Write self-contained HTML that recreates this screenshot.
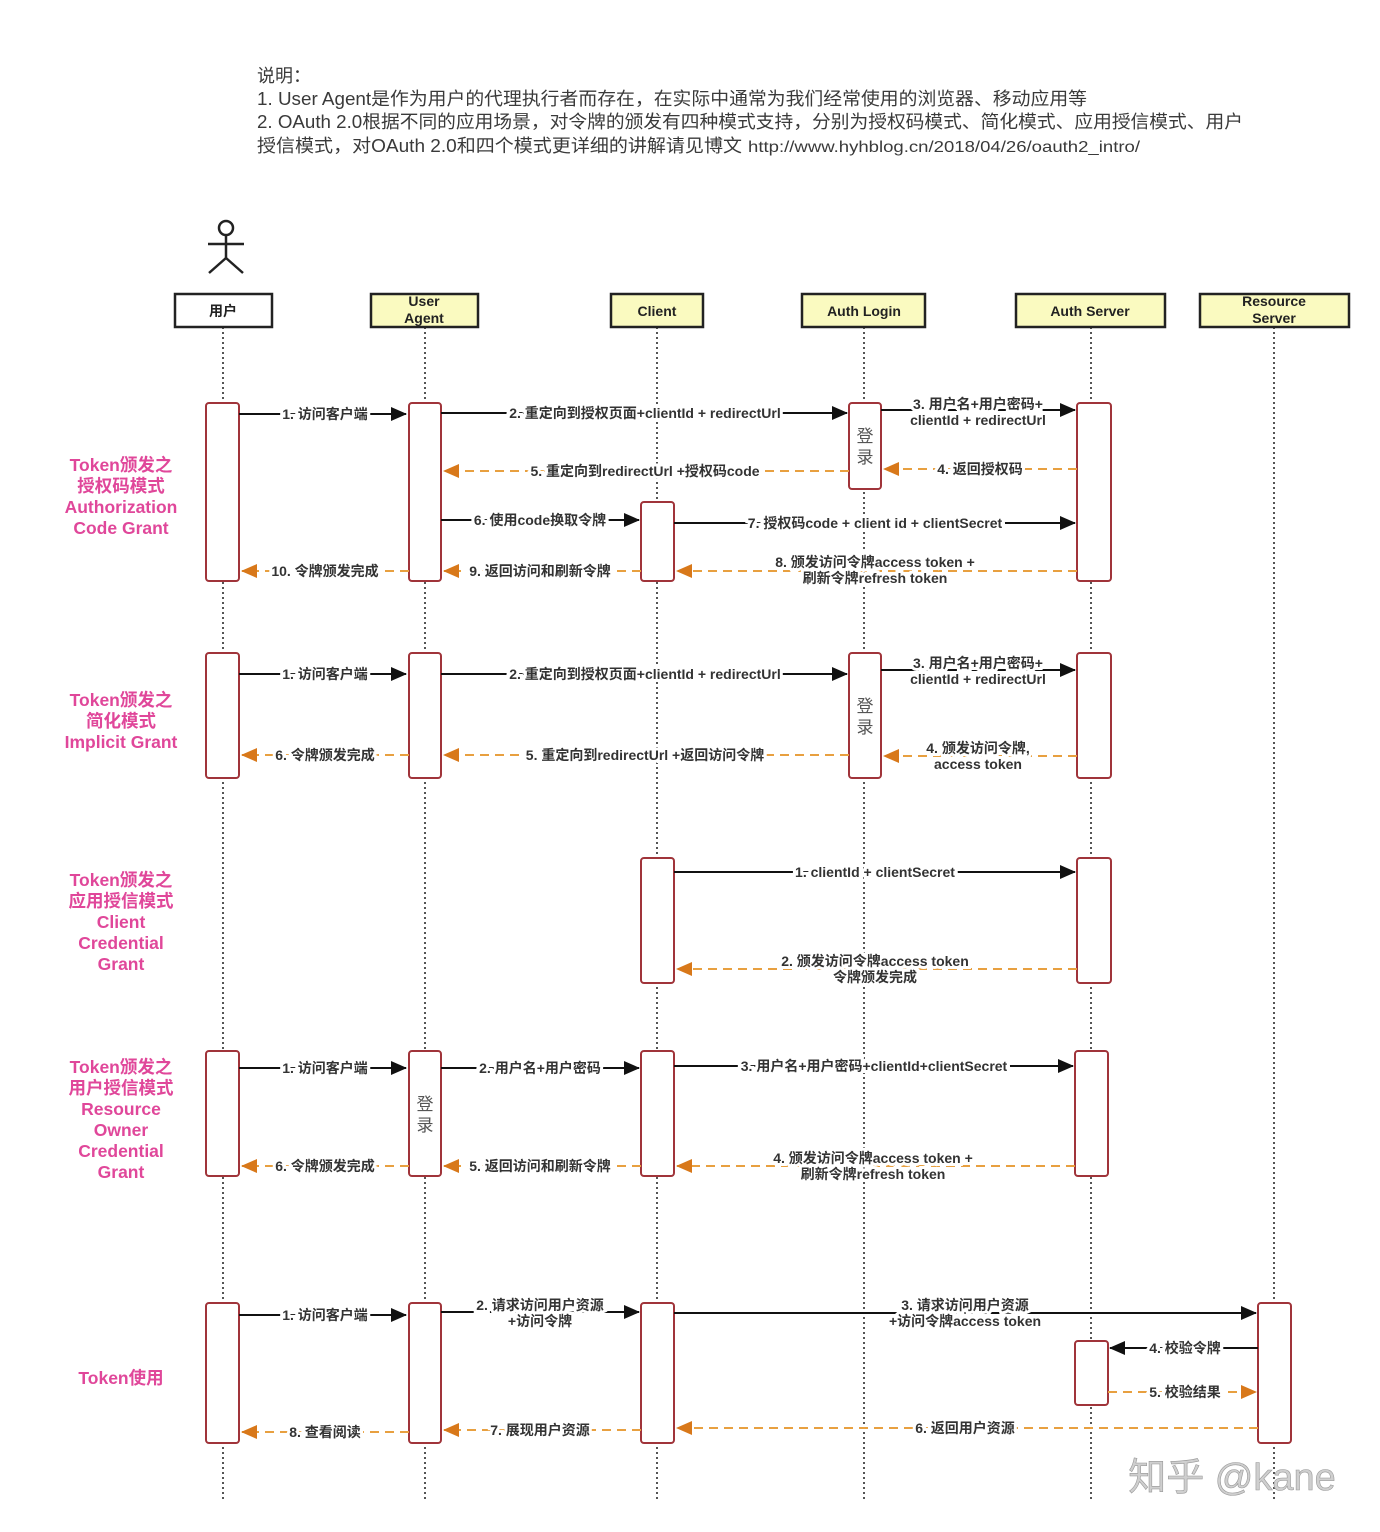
<!DOCTYPE html>
<html><head><meta charset="utf-8"><style>
html,body{margin:0;padding:0;background:#fff;}
svg{display:block;}
text{font-family:"Liberation Sans","Noto Sans CJK SC",sans-serif;}
.d{font-size:18px;fill:#3a3a3a;}
.h{font-size:14px;font-weight:bold;fill:#222;text-anchor:middle;}
.m{font-size:14px;font-weight:bold;fill:#333;text-anchor:middle;stroke:#fff;stroke-width:6px;paint-order:stroke;}
.g{font-size:17.5px;font-weight:bold;fill:#e0479a;text-anchor:middle;}
.ll{stroke:#555;stroke-width:2;stroke-dasharray:2,3;}
.act{fill:#fff;stroke:#a0343a;stroke-width:2;}
.s{stroke:#111;stroke-width:2;fill:none;}
.k{stroke:#e8a040;stroke-width:2;stroke-dasharray:9,6;fill:none;}
</style></head><body>
<svg width="1380" height="1532" viewBox="0 0 1380 1532" xmlns="http://www.w3.org/2000/svg">
<defs>
<marker id="ao" markerWidth="20" markerHeight="16" refX="15" refY="8" orient="auto" markerUnits="userSpaceOnUse"><path d="M0,1 L16,8 L0,15 z" fill="#d8781a"/></marker>
<marker id="sb" markerWidth="20" markerHeight="16" refX="15" refY="8" orient="auto" markerUnits="userSpaceOnUse"><path d="M0,1 L16,8 L0,15 z" fill="#111"/></marker>
</defs>
<rect x="0" y="0" width="1380" height="1532" fill="#fff"/>
<text class="d" x="257" y="82">说明：</text>
<text class="d" x="257" y="105" textLength="830" lengthAdjust="spacingAndGlyphs">1. User Agent是作为用户的代理执行者而存在，在实际中通常为我们经常使用的浏览器、移动应用等</text>
<text class="d" x="257" y="128" textLength="986" lengthAdjust="spacingAndGlyphs">2. OAuth 2.0根据不同的应用场景，对令牌的颁发有四种模式支持，分别为授权码模式、简化模式、应用授信模式、用户</text>
<text class="d" x="257" y="152" textLength="485" lengthAdjust="spacingAndGlyphs">授信模式，对OAuth 2.0和四个模式更详细的讲解请见博文</text>
<text class="d" x="748" y="152" textLength="392" lengthAdjust="spacingAndGlyphs" style="font-size:16px">http://www.hyhblog.cn/2018/04/26/oauth2_intro/</text>
<g stroke="#222" stroke-width="2.5" fill="none">
<circle cx="226" cy="228" r="7"/>
<line x1="226" y1="235" x2="226" y2="258"/>
<line x1="208" y1="244" x2="244" y2="244"/>
<line x1="226" y1="258" x2="209" y2="273"/>
<line x1="226" y1="258" x2="243" y2="273"/>
</g>
<line class="ll" x1="223" y1="327" x2="223" y2="1502"/>
<line class="ll" x1="425" y1="327" x2="425" y2="1502"/>
<line class="ll" x1="657" y1="327" x2="657" y2="1502"/>
<line class="ll" x1="864" y1="327" x2="864" y2="1502"/>
<line class="ll" x1="1091" y1="327" x2="1091" y2="1502"/>
<line class="ll" x1="1274" y1="327" x2="1274" y2="1502"/>
<g stroke="#222" stroke-width="2.5">
<rect x="175" y="294" width="97" height="33" fill="#fff"/>
<rect x="371" y="294" width="107" height="33" fill="#fafac0"/>
<rect x="611" y="294" width="92" height="33" fill="#fafac0"/>
<rect x="802" y="294" width="123" height="33" fill="#fafac0"/>
<rect x="1016" y="294" width="149" height="33" fill="#fafac0"/>
<rect x="1200" y="294" width="149" height="33" fill="#fafac0"/>
</g>
<text class="h" x="223" y="316">用户</text>
<text class="h" x="424" y="306">User</text><text class="h" x="424" y="323">Agent</text>
<text class="h" x="657" y="316">Client</text>
<text class="h" x="864" y="316">Auth Login</text>
<text class="h" x="1090" y="316">Auth Server</text>
<text class="h" x="1274" y="306">Resource</text><text class="h" x="1274" y="323">Server</text>
<text class="g" x="121" y="471">Token颁发之</text><text class="g" x="121" y="492">授权码模式</text><text class="g" x="121" y="513">Authorization</text><text class="g" x="121" y="534">Code Grant</text>
<text class="g" x="121" y="706">Token颁发之</text><text class="g" x="121" y="727">简化模式</text><text class="g" x="121" y="748">Implicit Grant</text>
<text class="g" x="121" y="886">Token颁发之</text><text class="g" x="121" y="907">应用授信模式</text><text class="g" x="121" y="928">Client</text><text class="g" x="121" y="949">Credential</text><text class="g" x="121" y="970">Grant</text>
<text class="g" x="121" y="1073">Token颁发之</text><text class="g" x="121" y="1094">用户授信模式</text><text class="g" x="121" y="1115">Resource</text><text class="g" x="121" y="1136">Owner</text><text class="g" x="121" y="1157">Credential</text><text class="g" x="121" y="1178">Grant</text>
<text class="g" x="121" y="1384">Token使用</text>
<g>
<rect class="act" x="206" y="403" width="33" height="178" rx="3"/>
<rect class="act" x="409" y="403" width="32" height="178" rx="3"/>
<rect class="act" x="641" y="502" width="33" height="79" rx="3"/>
<rect class="act" x="849" y="403" width="32" height="86" rx="3"/>
<rect class="act" x="1077" y="403" width="34" height="178" rx="3"/>
<rect class="act" x="206" y="653" width="33" height="125" rx="3"/>
<rect class="act" x="409" y="653" width="32" height="125" rx="3"/>
<rect class="act" x="849" y="653" width="32" height="125" rx="3"/>
<rect class="act" x="1077" y="653" width="34" height="125" rx="3"/>
<rect class="act" x="641" y="858" width="33" height="125" rx="3"/>
<rect class="act" x="1077" y="858" width="34" height="125" rx="3"/>
<rect class="act" x="206" y="1051" width="33" height="125" rx="3"/>
<rect class="act" x="409" y="1051" width="32" height="125" rx="3"/>
<rect class="act" x="641" y="1051" width="33" height="125" rx="3"/>
<rect class="act" x="1075" y="1051" width="33" height="125" rx="3"/>
<rect class="act" x="206" y="1303" width="33" height="140" rx="3"/>
<rect class="act" x="409" y="1303" width="32" height="140" rx="3"/>
<rect class="act" x="641" y="1303" width="33" height="140" rx="3"/>
<rect class="act" x="1258" y="1303" width="33" height="140" rx="3"/>
<rect class="act" x="1075" y="1341" width="33" height="64" rx="3"/>
</g>
<g style="font-size:17px;fill:#555;text-anchor:middle">
<text x="865" y="442">登</text><text x="865" y="463">录</text>
<text x="865" y="712">登</text><text x="865" y="733">录</text>
<text x="425" y="1110">登</text><text x="425" y="1131">录</text>
</g>
<line class="s" x1="239" y1="414" x2="406" y2="414" marker-end="url(#sb)"/>
<text class="m" x="325" y="419">1. 访问客户端</text>
<line class="s" x1="441" y1="413" x2="847" y2="413" marker-end="url(#sb)"/>
<text class="m" x="645" y="418">2. 重定向到授权页面+clientId + redirectUrl</text>
<line class="s" x1="881" y1="410" x2="1075" y2="410" marker-end="url(#sb)"/>
<text class="m" x="978" y="409">3. 用户名+用户密码+</text><text class="m" x="978" y="425">clientId + redirectUrl</text>
<line class="k" x1="1077" y1="469" x2="884" y2="469" marker-end="url(#ao)"/>
<text class="m" x="980" y="474">4. 返回授权码</text>
<line class="k" x1="849" y1="471" x2="444" y2="471" marker-end="url(#ao)"/>
<text class="m" x="645" y="476">5. 重定向到redirectUrl +授权码code</text>
<line class="s" x1="441" y1="520" x2="639" y2="520" marker-end="url(#sb)"/>
<text class="m" x="540" y="525">6. 使用code换取令牌</text>
<line class="s" x1="674" y1="523" x2="1075" y2="523" marker-end="url(#sb)"/>
<text class="m" x="875" y="528">7. 授权码code + client id + clientSecret</text>
<line class="k" x1="1077" y1="571" x2="677" y2="571" marker-end="url(#ao)"/>
<text class="m" x="875" y="567">8. 颁发访问令牌access token +</text><text class="m" x="875" y="583">刷新令牌refresh token</text>
<line class="k" x1="641" y1="571" x2="444" y2="571" marker-end="url(#ao)"/>
<text class="m" x="540" y="576">9. 返回访问和刷新令牌</text>
<line class="k" x1="409" y1="571" x2="242" y2="571" marker-end="url(#ao)"/>
<text class="m" x="325" y="576">10. 令牌颁发完成</text>
<line class="s" x1="239" y1="674" x2="406" y2="674" marker-end="url(#sb)"/>
<text class="m" x="325" y="679">1. 访问客户端</text>
<line class="s" x1="441" y1="674" x2="847" y2="674" marker-end="url(#sb)"/>
<text class="m" x="645" y="679">2. 重定向到授权页面+clientId + redirectUrl</text>
<line class="s" x1="881" y1="670" x2="1075" y2="670" marker-end="url(#sb)"/>
<text class="m" x="978" y="668">3. 用户名+用户密码+</text><text class="m" x="978" y="684">clientId + redirectUrl</text>
<line class="k" x1="1077" y1="756" x2="884" y2="756" marker-end="url(#ao)"/>
<text class="m" x="978" y="753">4. 颁发访问令牌,</text><text class="m" x="978" y="769">access token</text>
<line class="k" x1="849" y1="755" x2="444" y2="755" marker-end="url(#ao)"/>
<text class="m" x="645" y="760">5. 重定向到redirectUrl +返回访问令牌</text>
<line class="k" x1="409" y1="755" x2="242" y2="755" marker-end="url(#ao)"/>
<text class="m" x="325" y="760">6. 令牌颁发完成</text>
<line class="s" x1="674" y1="872" x2="1075" y2="872" marker-end="url(#sb)"/>
<text class="m" x="875" y="877">1. clientId + clientSecret</text>
<line class="k" x1="1077" y1="969" x2="677" y2="969" marker-end="url(#ao)"/>
<text class="m" x="875" y="966">2. 颁发访问令牌access token</text><text class="m" x="875" y="982">令牌颁发完成</text>
<line class="s" x1="239" y1="1068" x2="406" y2="1068" marker-end="url(#sb)"/>
<text class="m" x="325" y="1073">1. 访问客户端</text>
<line class="s" x1="441" y1="1068" x2="639" y2="1068" marker-end="url(#sb)"/>
<text class="m" x="540" y="1073">2. 用户名+用户密码</text>
<line class="s" x1="674" y1="1066" x2="1073" y2="1066" marker-end="url(#sb)"/>
<text class="m" x="874" y="1071">3. 用户名+用户密码+clientId+clientSecret</text>
<line class="k" x1="1075" y1="1166" x2="677" y2="1166" marker-end="url(#ao)"/>
<text class="m" x="873" y="1163">4. 颁发访问令牌access token +</text><text class="m" x="873" y="1179">刷新令牌refresh token</text>
<line class="k" x1="641" y1="1166" x2="444" y2="1166" marker-end="url(#ao)"/>
<text class="m" x="540" y="1171">5. 返回访问和刷新令牌</text>
<line class="k" x1="409" y1="1166" x2="242" y2="1166" marker-end="url(#ao)"/>
<text class="m" x="325" y="1171">6. 令牌颁发完成</text>
<line class="s" x1="239" y1="1315" x2="406" y2="1315" marker-end="url(#sb)"/>
<text class="m" x="325" y="1320">1. 访问客户端</text>
<line class="s" x1="441" y1="1312" x2="639" y2="1312" marker-end="url(#sb)"/>
<text class="m" x="540" y="1310">2. 请求访问用户资源</text><text class="m" x="540" y="1326">+访问令牌</text>
<line class="s" x1="674" y1="1313" x2="1256" y2="1313" marker-end="url(#sb)"/>
<text class="m" x="965" y="1310">3. 请求访问用户资源</text><text class="m" x="965" y="1326">+访问令牌access token</text>
<line class="s" x1="1258" y1="1348" x2="1110" y2="1348" marker-end="url(#sb)"/>
<text class="m" x="1185" y="1353">4. 校验令牌</text>
<line class="k" x1="1108" y1="1392" x2="1256" y2="1392" marker-end="url(#ao)"/>
<text class="m" x="1185" y="1397">5. 校验结果</text>
<line class="k" x1="1258" y1="1428" x2="677" y2="1428" marker-end="url(#ao)"/>
<text class="m" x="965" y="1433">6. 返回用户资源</text>
<line class="k" x1="641" y1="1430" x2="444" y2="1430" marker-end="url(#ao)"/>
<text class="m" x="540" y="1435">7. 展现用户资源</text>
<line class="k" x1="409" y1="1432" x2="242" y2="1432" marker-end="url(#ao)"/>
<text class="m" x="325" y="1437">8. 查看阅读</text>
<text x="1232" y="1490" style="font-size:38px;fill:#cfcfcf;text-anchor:middle;stroke:#999;stroke-width:0.6px">知乎 @kane</text>
</svg>
</body></html>
